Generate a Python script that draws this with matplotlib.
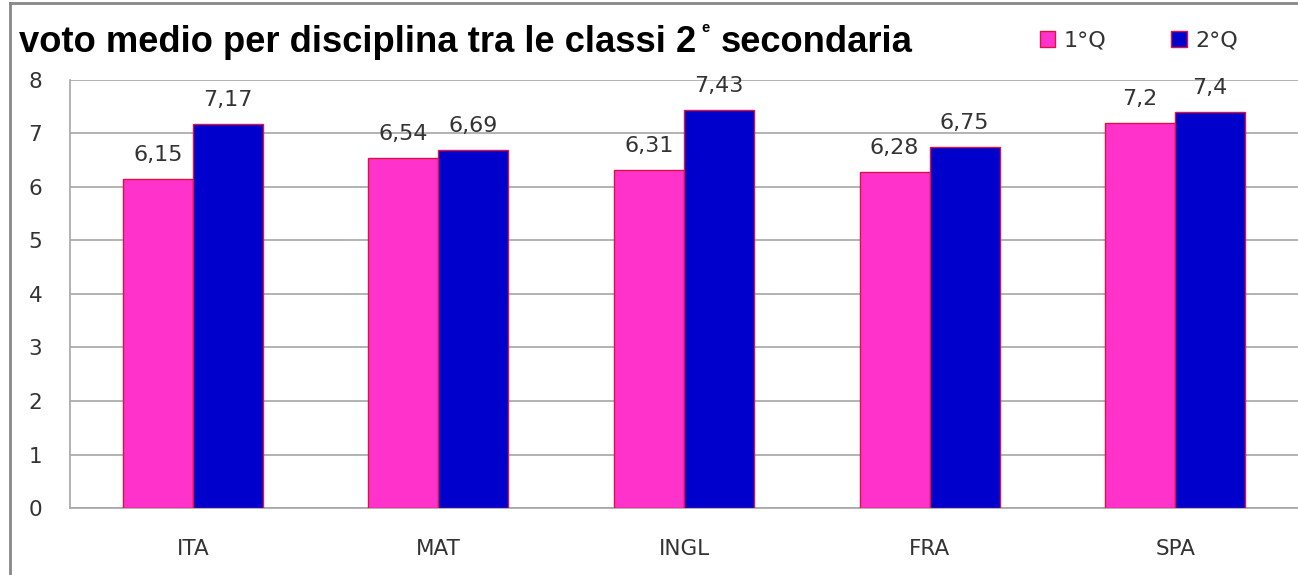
import numpy as np
import matplotlib.pyplot as plt
from matplotlib.lines import Line2D

# Dati
materie = ['ITA', 'MAT', 'INGL', 'FRA', 'SPA']
primo_q = [6.15, 6.54, 6.31, 6.28, 7.2]
secondo_q = [7.17, 6.69, 7.43, 6.75, 7.4]
etichette_1 = ['6,15', '6,54', '6,31', '6,28', '7,2']
etichette_2 = ['7,17', '6,69', '7,43', '6,75', '7,4']

rosa = '#ff33cc'
blu = '#0000cc'
bordo = '#dd1144'
grigio = '#a6a6a6'

plt.rcParams['font.family'] = ['DejaVu Sans']

fig = plt.figure(figsize=(12.98, 5.75), dpi=100)
ax = fig.add_axes([0.054, 0.1165, 0.946, 0.7445])

x = np.arange(len(materie))
w = 0.285
b1 = ax.bar(x - w / 2, primo_q, w, color=rosa, edgecolor=bordo, linewidth=1, label='1°Q', zorder=3)
b2 = ax.bar(x + w / 2, secondo_q, w, color=blu, edgecolor=bordo, linewidth=1, label='2°Q', zorder=3)

for xi, v, t in zip(x, primo_q, etichette_1):
    ax.text(xi - w / 2, v + 0.34, t, ha='center', va='baseline', fontsize=16, color='#333333')
for xi, v, t in zip(x, secondo_q, etichette_2):
    ax.text(xi + w / 2, v + 0.34, t, ha='center', va='baseline', fontsize=16, color='#333333')

ax.set_xlim(-0.5, len(materie) - 0.5)
ax.set_ylim(0, 8)
ax.set_yticks(range(0, 9))
ax.set_xticks(x)
ax.set_xticklabels(materie)
ax.tick_params(axis='both', length=0, labelsize=15.5, colors='#333333')
ax.tick_params(axis='x', pad=22)
ax.tick_params(axis='y', pad=20)
ax.yaxis.grid(True, color=grigio, linewidth=1.2, zorder=0)
ax.set_axisbelow(True)
for s in ['top', 'right']:
    ax.spines[s].set_visible(False)
for s in ['left', 'bottom']:
    ax.spines[s].set_color(grigio)
    ax.spines[s].set_linewidth(1.2)

# titolo in tre pezzi: testo, "e" in apice, resto
titolo = fig.text(0.015, 0.9096, 'voto medio per disciplina tra le classi 2',
                  fontsize=26.2, fontweight='bold', va='baseline', ha='left',
                  family=['Liberation Sans', 'DejaVu Sans'])
ax.annotate('e', xy=(1, 1), xycoords=titolo, xytext=(3, 3), textcoords='offset points',
            fontsize=10.5, fontweight='bold', va='top', ha='left',
            family=['Liberation Sans', 'DejaVu Sans'], annotation_clip=False)
ax.annotate('secondaria', xy=(1, 0), xycoords=titolo, xytext=(17, 0), textcoords='offset points',
            fontsize=26.2, fontweight='bold', va='bottom', ha='left',
            family=['Liberation Sans', 'DejaVu Sans'], annotation_clip=False)

ax.legend(handles=[b1, b2], loc='center', bbox_to_anchor=(0.8705, 1.092), ncol=2,
          frameon=False, fontsize=16, handlelength=0.7, handleheight=0.7,
          columnspacing=2.9, handletextpad=0.4, labelcolor='#333333')

# cornice grigia
fig.add_artist(Line2D([0.008, 0.008], [0, 0.995], color='#888888', linewidth=2))
fig.add_artist(Line2D([0.008, 1], [0.995, 0.995], color='#888888', linewidth=2))

plt.savefig('out.png')
